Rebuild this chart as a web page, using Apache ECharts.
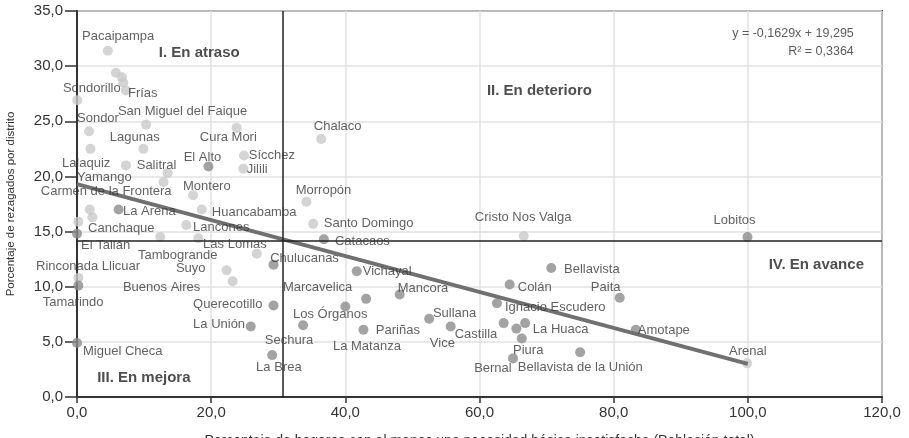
<!DOCTYPE html>
<html>
<head>
<meta charset="utf-8">
<script src="https://cdn.jsdelivr.net/npm/echarts@6/dist/echarts.min.js"></script>
<style>
  html, body { margin: 0; padding: 0; background: #fff; }
  #chart { width: 909px; height: 438px; }
</style>
</head>
<body>
<div id="chart"></div>
<script>
// distritos de sierra (gris claro)
const lightPoints = [
  [4.6, 31.4], [5.8, 29.4], [6.7, 29.0], [6.9, 28.5], [7.3, 27.8],
  [0.05, 26.9], [1.8, 24.1], [10.3, 24.7], [23.8, 24.4],
  [2.0, 22.5], [9.9, 22.5], [7.3, 21.0], [13.5, 20.3], [12.9, 19.5],
  [24.9, 21.9], [24.8, 20.7], [17.3, 18.3],
  [1.9, 17.0], [2.3, 16.3], [0.2, 15.9], [18.6, 17.0], [16.3, 15.6],
  [12.4, 14.5], [18.1, 14.4], [26.8, 13.0],
  [0.2, 10.8], [22.3, 11.5], [23.2, 10.5],
  [36.4, 23.4], [34.2, 17.7], [35.2, 15.7], [66.6, 14.6], [99.9, 3.05]
]

// distritos de costa (gris oscuro)
const darkPoints = [
  [19.6, 20.9], [6.2, 17.0], [0.0, 14.8], [0.2, 10.1], [29.3, 12.0],
  [29.3, 8.3], [25.9, 6.4], [0.0, 4.9], [29.1, 3.8],
  [36.8, 14.3], [41.7, 11.4], [43.1, 8.9], [40.0, 8.2], [33.7, 6.5],
  [42.7, 6.1], [48.1, 9.3], [52.5, 7.1], [55.7, 6.4],
  [64.5, 10.2], [62.6, 8.5], [63.6, 6.7], [65.5, 6.2], [66.8, 6.7],
  [66.3, 5.3], [65.0, 3.5],
  [70.7, 11.7], [80.9, 9.0], [75.0, 4.05], [83.3, 6.1], [99.95, 14.5]
]

// nombre, x, y (esquina izquierda del texto)
const districtLabels = [
  ['Pacaipampa', 0.75, 32.7], ['Sondorillo', -2.1, 28.0], ['Frías', 7.6, 27.55],
  ['San Miguel del Faique', 6.1, 25.85], ['Sondor', 0.0, 25.3], ['Lagunas', 4.9, 23.5],
  ['Cura Mori', 18.3, 23.55], ['Lalaquiz', -2.25, 21.2], ['Salitral', 8.9, 21.0],
  ['El Alto', 15.9, 21.75], ['Sícchez', 25.6, 21.95], ['Jilili', 25.3, 20.6],
  ['Yamango', 0.0, 19.95], ['Carmen de la Frontera', -5.4, 18.6], ['Montero', 15.8, 19.05],
  ['La Arena', 6.85, 16.85], ['Huancabamba', 20.1, 16.7], ['Canchaque', 1.65, 15.3],
  ['Lancones', 17.3, 15.4], ['El Tallán', 0.6, 13.7], ['Las Lomas', 18.8, 13.85],
  ['Tambogrande', 9.1, 12.85], ['Rinconada Llicuar', -6.1, 11.8], ['Suyo', 14.75, 11.7],
  ['Chulucanas', 28.8, 12.6], ['Buenos Aires', 6.85, 9.95], ['Tamarindo', -5.1, 8.6],
  ['Querecotillo', 17.3, 8.35], ['La Unión', 17.3, 6.6], ['Sechura', 28.0, 5.15],
  ['Miguel Checa', 0.9, 4.1], ['La Brea', 26.7, 2.7], ['Vichayal', 42.6, 11.35],
  ['Marcavelica', 30.7, 9.95], ['Mancora', 47.8, 9.8], ['Colán', 65.7, 9.95],
  ['Los Órganos', 32.2, 7.5], ['Sullana', 53.05, 7.6], ['Ignacio Escudero', 63.8, 8.15],
  ['Pariñas', 44.55, 6.05], ['La Matanza', 38.15, 4.6], ['Castilla', 56.3, 5.7],
  ['Vice', 52.6, 4.9], ['La Huaca', 67.95, 6.15], ['Piura', 65.0, 4.25],
  ['Bernal', 59.2, 2.6], ['Bellavista de la Unión', 65.7, 2.7], ['Bellavista', 72.6, 11.6],
  ['Paita', 76.6, 9.95], ['Amotape', 83.6, 6.05], ['Arenal', 97.2, 4.1],
  ['Lobitos', 94.9, 16.05], ['Cristo Nos Valga', 59.3, 16.25], ['Chalaco', 35.3, 24.55],
  ['Morropón', 32.6, 18.7], ['Santo Domingo', 36.8, 15.7], ['Catacaos', 38.45, 14.15]
]

const quadrantLabels = [
  ['I. En atraso', 12.2, 31.2], ['II. En deterioro', 61.1, 27.75],
  ['III. En mejora', 3.0, 1.7], ['IV. En avance', 103.1, 11.95]
]

const equationLabels = [
  ['y = -0,1629x + 19,295', 115.8, 33.0], ['R² = 0,3364', 115.8, 31.3]
]

// recta de tendencia
const trendLine = [[0, 19.3], [100, 3.0]]

// promedios (líneas de cuadrante)
const meanX = 30.7
const meanY = 14.2

const fmt = v => v.toFixed(1).replace('.', ',')
const labelFont = 'Liberation Sans, Arial, sans-serif'
const narrowFont = 'Liberation Sans Narrow, Arial, sans-serif'

const chart = echarts.init(document.getElementById('chart'))

const textSeries = (rows, style, position) => ({
  type: 'scatter',
  symbolSize: 0,
  silent: true,
  clip: false,
  z: 5,
  data: rows.map(r => ({ name: r[0], value: [r[1], r[2]] })),
  label: Object.assign({
    show: true,
    position: position,
    distance: 0,
    formatter: '{b}',
    fontFamily: labelFont
  }, style)
})

chart.setOption({
  animation: false,
  grid: {
    left: 77, right: 27, top: 11, bottom: 41,
    outerBoundsMode: 'none',
    containLabel: false,
    show: true,
    borderColor: '#444',
    borderWidth: 2
  },
  xAxis: {
    type: 'value',
    min: 0, max: 120, interval: 20,
    name: 'Porcentaje de hogares con al menos una necesidad básica insatisfecha (Población total)',
    nameLocation: 'middle',
    nameGap: 37,
    nameTextStyle: { fontFamily: narrowFont, fontSize: 14, color: '#333' },
    axisLine: { onZero: false, lineStyle: { color: '#333', width: 2 } },
    axisTick: { show: true, length: 6, lineStyle: { color: '#333', width: 1.5 } },
    axisLabel: { formatter: fmt, fontFamily: labelFont, fontSize: 15, color: '#333', margin: 8 },
    splitLine: { lineStyle: { color: '#e2e2e2', width: 1.5 } }
  },
  yAxis: {
    type: 'value',
    min: 0, max: 35, interval: 5,
    name: 'Porcentaje de rezagados por distrito',
    nameLocation: 'middle',
    nameGap: 60,
    nameTextStyle: { fontFamily: narrowFont, fontSize: 11.5, color: '#333' },
    axisLine: { onZero: false, lineStyle: { color: '#333', width: 2 } },
    axisTick: { show: true, length: 12, lineStyle: { color: '#333', width: 1.5 } },
    axisLabel: { formatter: fmt, fontFamily: labelFont, fontSize: 15, color: '#333', margin: 14 },
    splitLine: { lineStyle: { color: '#e2e2e2', width: 1.5 } }
  },
  series: [
    {
      name: 'Sierra',
      type: 'scatter',
      symbolSize: 10,
      itemStyle: { color: '#c9c9c9' },
      data: lightPoints,
      z: 2
    },
    {
      name: 'Costa',
      type: 'scatter',
      symbolSize: 10,
      itemStyle: { color: '#8c8c8c' },
      data: darkPoints,
      z: 2,
      markLine: {
        silent: true,
        symbol: 'none',
        label: { show: false },
        lineStyle: { color: '#222', width: 1.5, type: 'solid' },
        data: [{ xAxis: meanX }, { yAxis: meanY }]
      }
    },
    {
      name: 'Tendencia',
      type: 'line',
      data: trendLine,
      symbol: 'none',
      lineStyle: { color: '#707070', width: 4 },
      z: 3
    },
    textSeries(districtLabels, { fontSize: 13, color: '#3a3a3a' }, 'right'),
    textSeries(quadrantLabels, { fontSize: 15, fontWeight: 'bold', color: '#222' }, 'right'),
    textSeries(equationLabels, { fontSize: 12.5, color: '#333' }, 'left')
  ]
})
</script>
</body>
</html>
